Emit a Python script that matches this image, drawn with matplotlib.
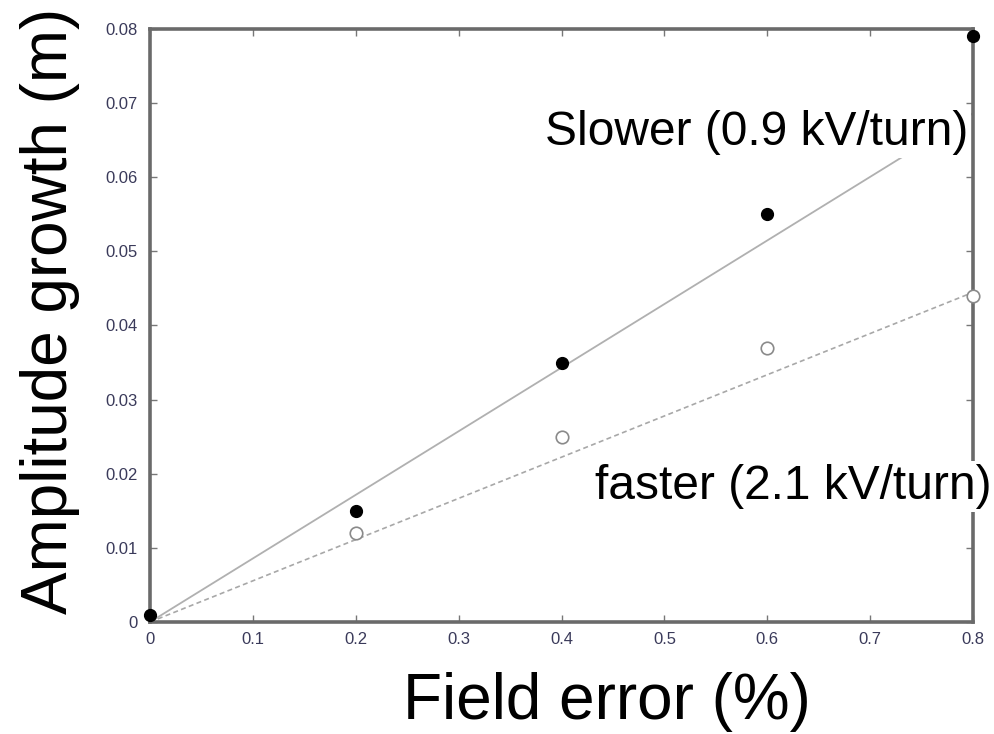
import matplotlib
matplotlib.use("Agg")
import matplotlib.pyplot as plt
import numpy as np

plt.rcParams['font.family'] = ['Liberation Sans', 'DejaVu Sans']

field_error = [0.0, 0.2, 0.4, 0.6, 0.8]
slow_growth = [0.001, 0.015, 0.035, 0.055, 0.079]
fast_x = [0.2, 0.4, 0.6, 0.8]
fast_growth = [0.012, 0.025, 0.037, 0.044]
slow_slope = 0.0858
fast_slope = 0.0556
xticks = [0, 0.1, 0.2, 0.3, 0.4, 0.5, 0.6, 0.7, 0.8]
yticks = [0, 0.01, 0.02, 0.03, 0.04, 0.05, 0.06, 0.07, 0.08]

fig = plt.figure(figsize=(9.94, 7.34), dpi=100)
ax = fig.add_axes([0.151, 0.1526, 0.828, 0.8079])
ax.set_xlim(0, 0.8)
ax.set_ylim(0, 0.08)

fx = np.array([0, 0.8])
ax.plot(fx, slow_slope * fx, color='#b0b0b0', lw=1.3, zorder=2)
ax.plot(fx, fast_slope * fx, color='#a8a8a8', lw=1.2, ls=(0, (3, 2)), zorder=2)
ax.plot(field_error, slow_growth, 'o', color='black', ms=8.5, clip_on=False, zorder=4)
ax.plot(fast_x, fast_growth, 'o', mfc='white', mec='#8a8a8a', mew=1.2, ms=9, clip_on=False, zorder=3)

ax.set_xticks(xticks)
ax.set_xticklabels(['0', '0.1', '0.2', '0.3', '0.4', '0.5', '0.6', '0.7', '0.8'])
ax.set_yticks(yticks)
ax.set_yticklabels(['0', '0.01', '0.02', '0.03', '0.04', '0.05', '0.06', '0.07', '0.08'])
ax.tick_params(direction='in', length=5, width=1, color='#777777', labelsize=12,
               labelcolor='#3a3a5a', top=True, right=True)
ax.tick_params(axis='x', pad=7)
ax.tick_params(axis='y', pad=9)
for s in ax.spines.values():
    s.set_color('#6a6a6a')
    s.set_linewidth(2.6)

ax.set_xlabel('Field error (%)', fontsize=46)
ax.xaxis.set_label_coords(0.555, -0.085, transform=ax.transAxes)
ax.xaxis.label.set_va('top')
ax.set_ylabel('Amplitude growth (m)', fontsize=46)
ax.yaxis.set_label_coords(-0.1215, 0.524, transform=ax.transAxes)
ax.yaxis.label.set_va('center')
ax.yaxis.label.set_ha('center')
ax.yaxis.label.set_rotation_mode('anchor')

bb = dict(facecolor='white', edgecolor='none', pad=2)
ax.text(0.994, 0.826, 'Slower (0.9 kV/turn)', transform=ax.transAxes, ha='right', va='center',
        fontsize=34.5, bbox=bb, clip_on=False, zorder=5)
ax.text(1.022, 0.228, 'faster (2.1 kV/turn)', transform=ax.transAxes, ha='right', va='center',
        fontsize=34.5, bbox=bb, clip_on=False, zorder=5)

fig.savefig('out.png', dpi=100)
